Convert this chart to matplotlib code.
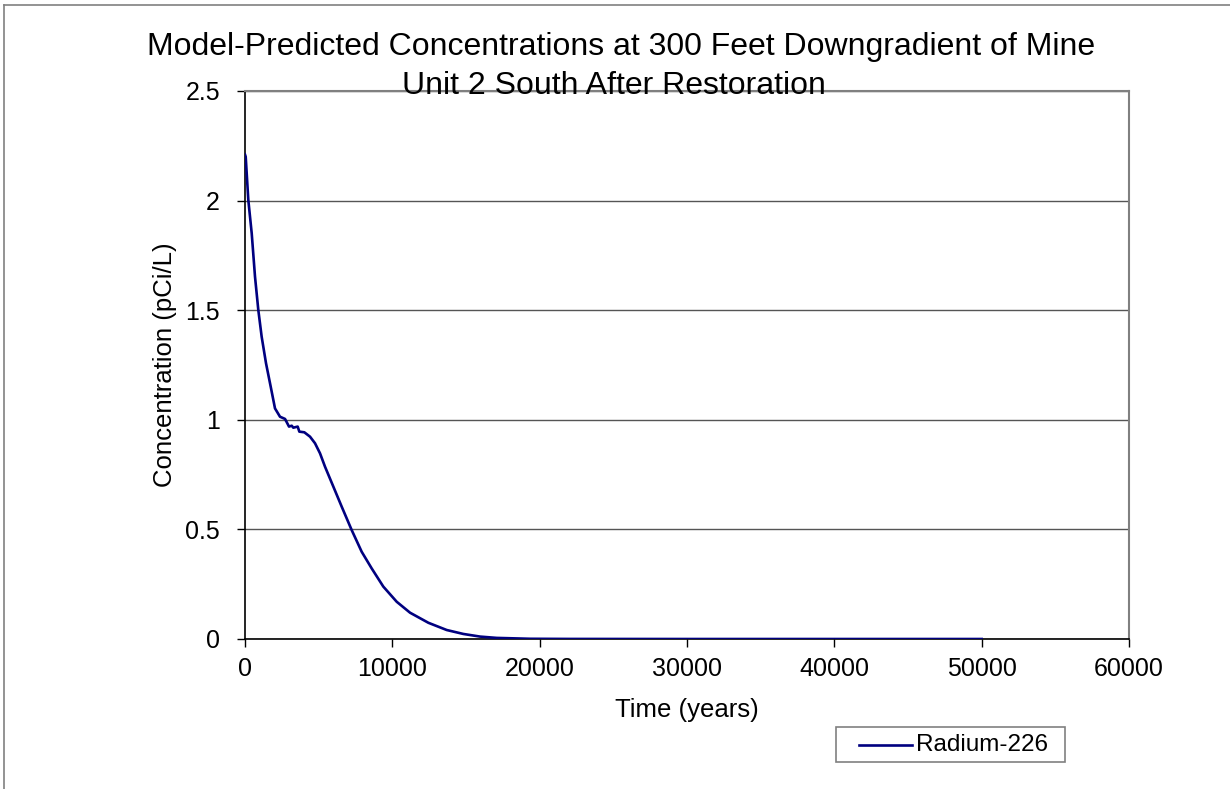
import matplotlib.pyplot as plt
from matplotlib.lines import Line2D
from matplotlib.patches import Rectangle

plt.rcParams["font.family"] = ["Liberation Sans", "DejaVu Sans"]

# Radium-226 concentration.
time_years = [0, 48, 224, 455, 679, 903, 1131, 1426, 1745, 2036, 2376, 2716, 2987,
              3170, 3280, 3575, 3688, 4027, 4413, 4752, 5092, 5431, 5997, 6562, 7241,
              7920, 8599, 9388, 10295, 11202, 12446, 13690, 14822, 15953, 17085,
              19348, 22000, 30000, 40000, 50000]
radium_226 = [2.21, 2.20, 2.003, 1.851, 1.653, 1.501, 1.379, 1.258, 1.151, 1.052,
              1.014, 1.004, 0.969, 0.973, 0.964, 0.969, 0.946, 0.943, 0.923, 0.893,
              0.847, 0.786, 0.695, 0.604, 0.497, 0.398, 0.322, 0.239, 0.170, 0.120,
              0.074, 0.041, 0.023, 0.011, 0.005, 0.001, 0.0003, 0.0, 0.0, 0.0]

x_ticks = [0, 10000, 20000, 30000, 40000, 50000, 60000]
y_ticks = [0, 0.5, 1, 1.5, 2, 2.5]
y_tick_labels = ["0", "0.5", "1", "1.5", "2", "2.5"]
title_lines = ["Model-Predicted Concentrations at 300 Feet Downgradient of Mine",
               "Unit 2 South After Restoration"]
series_name = "Radium-226"
line_color = "#000080"

W, H = 1230, 789
fig = plt.figure(figsize=(W / 100, H / 100), dpi=100)

# Outer frame of the chart area (top and left edges visible).
fig.add_artist(Line2D([4 / W, 1.0], [1 - 5 / H, 1 - 5 / H], color="#808080", lw=1.2))
fig.add_artist(Line2D([4 / W, 4 / W], [0.0, 1 - 5 / H], color="#808080", lw=1.2))

ax = fig.add_axes([245 / W, 1 - 639 / H, (1129 - 245) / W, (639 - 91) / H])
ax.plot(time_years, radium_226, color=line_color, lw=1.9, zorder=3)

ax.set_xlim(0, 60000)
ax.set_ylim(0, 2.5)
ax.set_xticks(x_ticks)
ax.set_xticklabels([str(t) for t in x_ticks])
ax.set_yticks(y_ticks)
ax.set_yticklabels(y_tick_labels)
ax.tick_params(axis="both", labelsize=18, length=6, width=1, color="black",
               direction="out")
ax.tick_params(axis="x", pad=7)
ax.tick_params(axis="y", pad=12)

ax.grid(axis="y", color="#555555", lw=1)
ax.set_axisbelow(True)
for side in ["top", "right"]:
    ax.spines[side].set_color("#808080")
    ax.spines[side].set_linewidth(1.5)
for side in ["left", "bottom"]:
    ax.spines[side].set_color("black")
    ax.spines[side].set_linewidth(1.2)

ax.set_xlabel("Time (years)", fontsize=18.5, labelpad=12)
ax.set_ylabel("Concentration (pCi/L)", fontsize=18.5, labelpad=6)

fig.text(621 / W, 1 - 55.5 / H, title_lines[0], ha="center", va="baseline", fontsize=23)
fig.text(614 / W, 1 - 94 / H, title_lines[1], ha="center", va="baseline", fontsize=23)

# Legend box, drawn by hand to match the reference spacing.
fig.add_artist(Rectangle((836 / W, 1 - 762 / H), (1065 - 836) / W, (762 - 727) / H,
                         transform=fig.transFigure, facecolor="white",
                         edgecolor="#808080", lw=1.2))
fig.add_artist(Line2D([859 / W, 912 / W], [1 - 745 / H, 1 - 745 / H],
                      color=line_color, lw=1.9))
fig.text(916 / W, 1 - 745 / H, series_name, ha="left", va="center", fontsize=17.5)

fig.savefig("out.png", dpi=100)
